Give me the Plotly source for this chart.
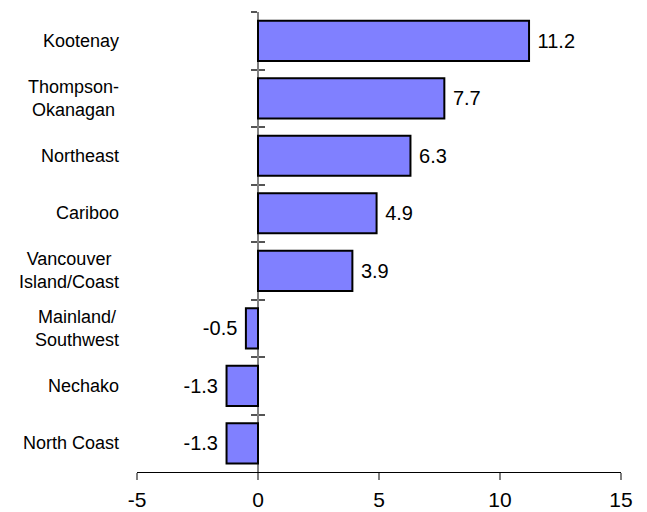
import plotly.graph_objects as go

# Regions, listed top to bottom, and their values
regions = [
    "Kootenay",
    "Thompson-<br>Okanagan",
    "Northeast",
    "Cariboo",
    "Vancouver<br>Island/Coast",
    "Mainland/<br>Southwest",
    "Nechako",
    "North Coast",
]
values = [11.2, 7.7, 6.3, 4.9, 3.9, -0.5, -1.3, -1.3]

x_ticks = [-5, 0, 5, 10, 15]
x_range = [-5, 15]

FONT = "Liberation Sans, Arial, sans-serif"
NBSP = "\u00a0"

# value labels, padded away from the bar end
labels = [(NBSP + f"{v}") if v >= 0 else (f"{v}" + NBSP) for v in values]

fig = go.Figure()
fig.add_trace(go.Bar(
    x=values,
    y=regions,
    orientation="h",
    marker=dict(color="#8080FF", line=dict(color="#000000", width=2)),
    text=labels,
    textposition="outside",
    textfont=dict(family=FONT, size=20, color="#000000"),
    constraintext="none",
    cliponaxis=False,
    hoverinfo="skip",
    showlegend=False,
))

# invisible companion trace so the second (inside-tick) axis is drawn
fig.add_trace(go.Scatter(
    x=[0] * len(regions),
    y=regions,
    yaxis="y2",
    mode="markers",
    marker=dict(opacity=0),
    hoverinfo="skip",
    showlegend=False,
))

zero_pos = (0 - x_range[0]) / (x_range[1] - x_range[0])

# category names to the left of the plot
for r in regions:
    fig.add_annotation(
        x=-0.033, xref="paper", y=r, yref="y",
        text=r, showarrow=False, xanchor="right", align="center",
        font=dict(family=FONT, size=18, color="#000000"),
    )

fig.update_layout(
    width=647,
    height=512,
    margin=dict(l=137, r=26, t=12, b=40),
    paper_bgcolor="#FFFFFF",
    plot_bgcolor="#FFFFFF",
    bargap=0.3,
    xaxis=dict(
        range=x_range,
        tickvals=x_ticks,
        ticktext=[str(t) for t in x_ticks],
        showgrid=False,
        zeroline=False,
        showline=True,
        linecolor="#000000",
        linewidth=1,
        ticks="outside",
        ticklen=7,
        tickwidth=2,
        tickcolor="#808080",
        ticklabelstandoff=2,
        tickfont=dict(family=FONT, size=21, color="#000000"),
        automargin=False,
        fixedrange=True,
    ),
    yaxis=dict(
        type="category",
        categoryorder="array",
        categoryarray=regions,
        range=[len(regions) - 0.5, -0.5],
        anchor="free",
        position=zero_pos,
        showticklabels=False,
        showgrid=False,
        zeroline=False,
        showline=True,
        linecolor="#808080",
        linewidth=2,
        ticks="outside",
        tickson="boundaries",
        ticklen=6,
        tickwidth=1.5,
        tickcolor="#555555",
        layer="below traces",
        automargin=False,
        fixedrange=True,
    ),
    yaxis2=dict(
        type="category",
        overlaying="y",
        matches="y",
        anchor="free",
        position=zero_pos,
        showticklabels=False,
        showgrid=False,
        zeroline=False,
        showline=False,
        ticks="inside",
        tickson="boundaries",
        ticklen=6,
        tickwidth=1.5,
        tickcolor="#555555",
        layer="below traces",
        automargin=False,
        fixedrange=True,
    ),
)

fig.write_html("out.html")
